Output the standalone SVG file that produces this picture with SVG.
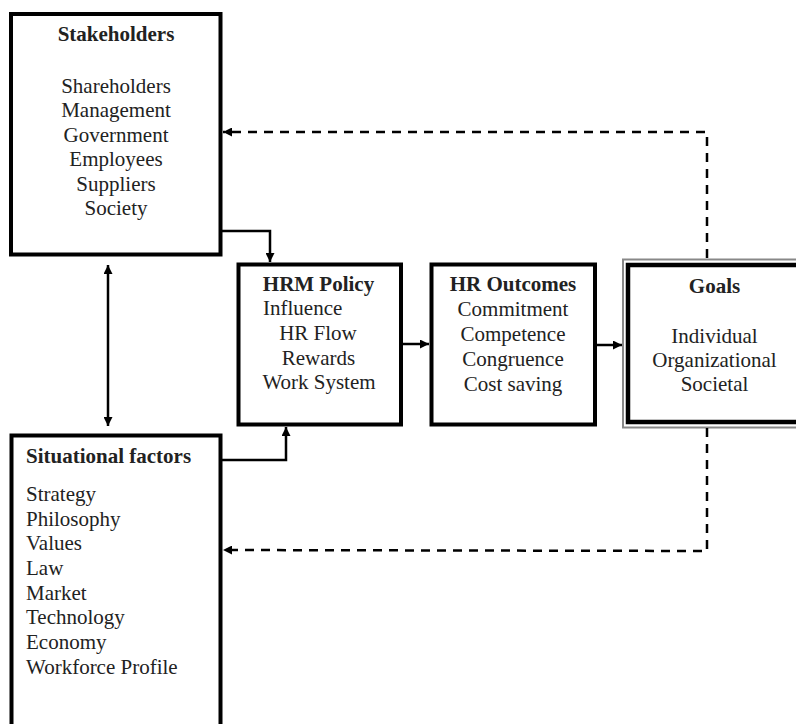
<svg xmlns="http://www.w3.org/2000/svg" width="796" height="724" viewBox="0 0 796 724">
<style>
.box{fill:#fff;stroke:#000;stroke-width:4}
.t{font-family:"Liberation Serif","Times New Roman",serif;font-size:21px;fill:#222}
.b{font-weight:bold}
.c{text-anchor:middle}
.ln{fill:none;stroke:#000;stroke-width:2.5}
.dash{fill:none;stroke:#000;stroke-width:2.5;stroke-dasharray:9 7}
</style>
<defs>
<marker id="ah" viewBox="0 0 10 10" refX="10" refY="5" markerWidth="9" markerHeight="9" markerUnits="userSpaceOnUse" orient="auto-start-reverse">
<path d="M0,0 L10,5 L0,10 z" fill="#000"/>
</marker>
</defs>
<rect width="796" height="724" fill="#fff"/>
<g id="stakeholders">
<rect class="box" x="11" y="14" width="209.5" height="240.5"/>
<text class="t b c" x="116" y="41">Stakeholders</text>
<text class="t c" x="116" y="93">Shareholders</text>
<text class="t c" x="116" y="117">Management</text>
<text class="t c" x="116" y="142">Government</text>
<text class="t c" x="116" y="166">Employees</text>
<text class="t c" x="116" y="191">Suppliers</text>
<text class="t c" x="116" y="215">Society</text>
</g>
<g id="situational">
<rect class="box" x="11.5" y="435.5" width="209" height="300"/>
<text class="t b" x="26" y="463">Situational factors</text>
<text class="t" x="26" y="501">Strategy</text>
<text class="t" x="26" y="525.5">Philosophy</text>
<text class="t" x="26" y="550">Values</text>
<text class="t" x="26" y="575">Law</text>
<text class="t" x="26" y="599.5">Market</text>
<text class="t" x="26" y="624">Technology</text>
<text class="t" x="26" y="649">Economy</text>
<text class="t" x="26" y="674">Workforce Profile</text>
</g>
<g id="hrm-policy">
<rect class="box" x="238.5" y="264.5" width="162.5" height="160"/>
<text class="t b c" x="318.5" y="291">HRM Policy</text>
<text class="t" x="263" y="315">Influence</text>
<text class="t c" x="318" y="340">HR Flow</text>
<text class="t c" x="318.5" y="365">Rewards</text>
<text class="t c" x="319" y="389">Work System</text>
</g>
<g id="hr-outcomes">
<rect class="box" x="431.5" y="264.5" width="163.5" height="160"/>
<text class="t b c" x="513" y="291">HR Outcomes</text>
<text class="t c" x="513" y="316">Commitment</text>
<text class="t c" x="513" y="341">Competence</text>
<text class="t c" x="513" y="366">Congruence</text>
<text class="t c" x="513" y="391">Cost saving</text>
</g>
<g id="goals">
<rect x="623" y="259.5" width="200" height="168" fill="#fff" stroke="#888" stroke-width="2"/>
<rect x="628" y="265" width="200" height="157" fill="#fff" stroke="#000" stroke-width="4.5"/>
<text class="t b c" x="714.5" y="293">Goals</text>
<text class="t c" x="714.5" y="343">Individual</text>
<text class="t c" x="714.5" y="367">Organizational</text>
<text class="t c" x="714.5" y="391">Societal</text>
</g>
<g id="connectors">
<polyline class="ln" points="222,231 270,231 270,262" marker-end="url(#ah)"/>
<polyline class="ln" points="222,460 286,460 286,427" marker-end="url(#ah)"/>
<line class="ln" x1="403" y1="344" x2="429" y2="344" marker-end="url(#ah)"/>
<line class="ln" x1="597" y1="345" x2="622" y2="345" marker-end="url(#ah)"/>
<line class="ln" x1="108" y1="265" x2="108" y2="426" marker-start="url(#ah)" marker-end="url(#ah)"/>
<polyline class="dash" points="707,258 707,132 223,132" marker-end="url(#ah)"/>
<polyline class="dash" points="707,428 707,551 223,550" marker-end="url(#ah)"/>
</g>
</svg>
